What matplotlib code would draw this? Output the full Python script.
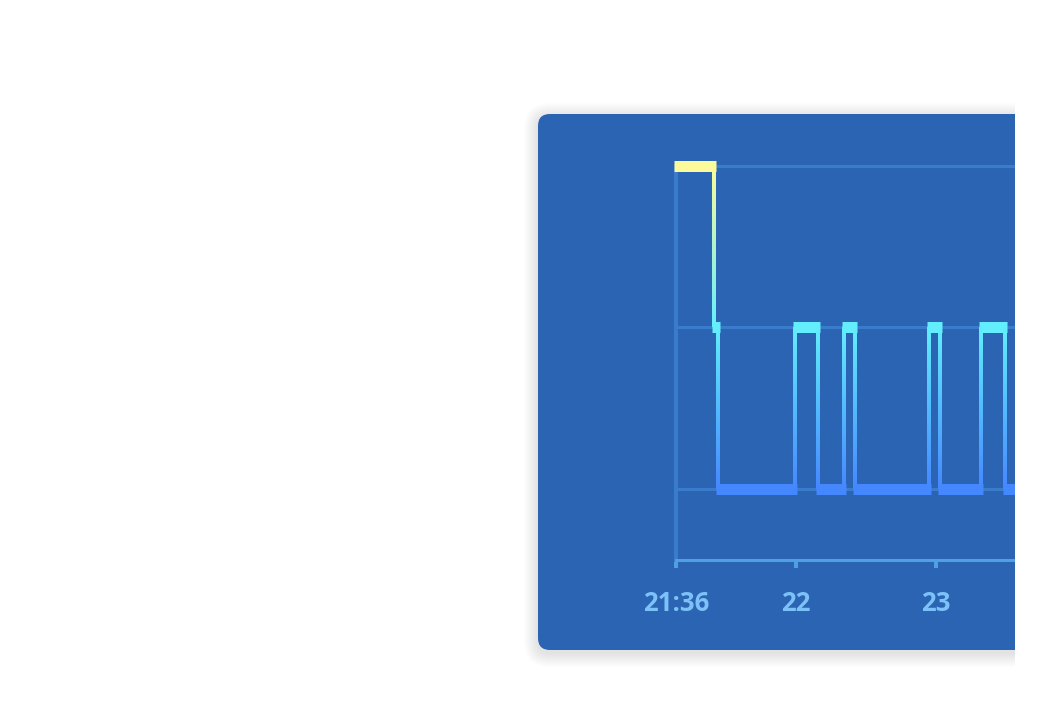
import numpy as np
import matplotlib
matplotlib.use("Agg")
import matplotlib.pyplot as plt
from matplotlib.patches import FancyBboxPatch, Rectangle
from matplotlib.collections import LineCollection
from matplotlib.colors import LinearSegmentedColormap, Normalize

# ---- data ----
# stage change times (decimal hours); stage i lasts from times[i] to times[i+1]
times = [21.143, 21.414, 21.443, 21.993, 22.157, 22.346, 22.418,
         22.948, 23.025, 23.324, 23.493, 23.95]
stages = [3, 2, 1, 2, 1, 2, 1, 2, 1, 2, 1]
levels = [1, 2, 3]
tick_pos = [21.143, 22.0, 23.0]
tick_labels = ["21:36", "22", "23"]

# ---- style ----
W, H = 1045, 726
panel_color = "#2b64b2"
grid_color = "#3b7bcb"
axis_color = "#4f9fe3"
label_color = "#7cc1f7"
cmap = LinearSegmentedColormap.from_list(
    "stage", [(0.0, "#4587ff"), (0.5, "#62eefd"), (1.0, "#fcfa9a")])
norm = Normalize(1, 3)
PX = 72 / 100  # points per pixel

fig = plt.figure(figsize=(W / 100, H / 100), dpi=100)
fig.patch.set_facecolor("white")

# background axes in pixel units
bg = fig.add_axes([0, 0, 1, 1], zorder=0)
bg.set_xlim(0, W)
bg.set_ylim(H, 0)
bg.axis("off")
px0, py0, pw, ph = 538, 114, 600, 536
for k in range(1, 15):
    bg.add_patch(FancyBboxPatch((px0, py0 + 3), pw, ph,
                                boxstyle=f"round,pad={k},rounding_size={12 + k}",
                                facecolor="black", edgecolor="none", alpha=0.009))
bg.add_patch(FancyBboxPatch((px0, py0), pw, ph,
                            boxstyle="round,pad=0,rounding_size=12",
                            facecolor=panel_color, edgecolor="none"))

# chart axes
top_px, bot_px, left_px, right_px = 160, 560, 676, 1100
ax = fig.add_axes([left_px / W, (H - bot_px) / H, (right_px - left_px) / W,
                   (bot_px - top_px) / H], zorder=1)
ax.set_facecolor("none")
x0 = tick_pos[0]
x_per_px = (tick_pos[1] - tick_pos[0]) / (796 - 676)
ax.set_xlim(x0, x0 + (right_px - left_px) * x_per_px)
ax.set_ylim(0.556, 3.040)

for s in ["top", "right"]:
    ax.spines[s].set_visible(False)
ax.spines["left"].set_color(grid_color)
ax.spines["left"].set_linewidth(4 * PX)
ax.spines["left"].set_bounds(0.556, 3.0)
ax.spines["bottom"].set_color(axis_color)
ax.spines["bottom"].set_linewidth(3 * PX)

ax.set_yticks(levels)
ax.tick_params(axis="y", length=0, labelleft=False)
ax.grid(axis="y", color=grid_color, linewidth=3 * PX)
ax.set_axisbelow(True)

ax.set_xticks(tick_pos)
ax.set_xticklabels(tick_labels)
ax.tick_params(axis="x", direction="out", length=8 * PX, width=4 * PX,
               color=axis_color, labelcolor=label_color, labelsize=18.5, pad=15.5)
for lab in ax.get_xticklabels():
    lab.set_fontweight("bold")
    lab.set_fontfamily("Open Sans")

# horizontal stage bars (extended by half a connector width on each side)
ext = 2 * x_per_px
for i, lvl in enumerate(stages):
    ax.plot([times[i] - ext, times[i + 1] + ext], [lvl, lvl],
            color=cmap(norm(lvl)), linewidth=11 * PX, solid_capstyle="butt",
            zorder=3, clip_on=False)

# vertical gradient connectors
segs, cols = [], []
for i in range(len(stages) - 1):
    t = times[i + 1]
    ys = np.linspace(stages[i], stages[i + 1], 60)
    for a, b in zip(ys[:-1], ys[1:]):
        segs.append([(t, a), (t, b)])
        cols.append(cmap(norm((a + b) / 2)))
lc = LineCollection(segs, colors=cols, linewidths=4 * PX, capstyle="butt",
                    zorder=4, clip_on=False)
ax.add_collection(lc)

# clip at the right edge
fig.add_artist(Rectangle((1015 / W, 0), 1, 1, transform=fig.transFigure,
                         facecolor="white", edgecolor="none", zorder=10))

fig.savefig("out.png", dpi=100, facecolor="white")
